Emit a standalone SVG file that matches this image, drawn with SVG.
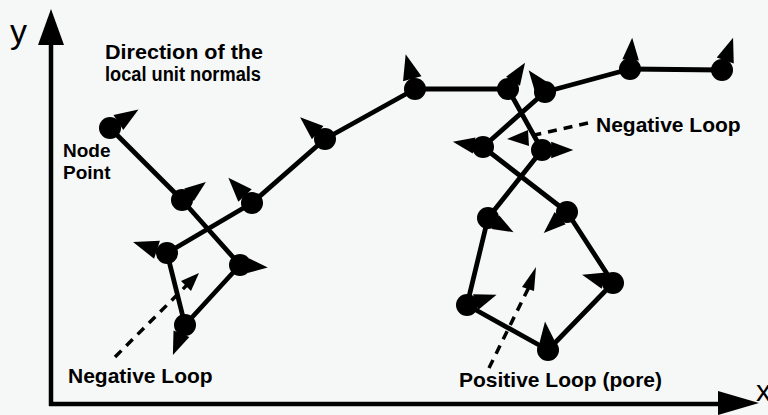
<svg xmlns="http://www.w3.org/2000/svg" xmlns:xlink="http://www.w3.org/1999/xlink" width="768" height="415" viewBox="0 0 768 415">
  <style>
    .lbl { font-family: "Liberation Sans", Arial, Helvetica, sans-serif; font-weight: bold; fill: #000; }
    .axl { font-family: "Liberation Sans", Arial, Helvetica, sans-serif; font-weight: normal; fill: #000; }
    .edge { fill: none; stroke: #000; stroke-width: 4.8; stroke-linejoin: round; stroke-linecap: round; }
    .axis { stroke: #000; stroke-width: 4.5; }
    .dash { fill: none; stroke: #000; stroke-width: 3.5; stroke-dasharray: 9 7; }
    .node { fill: #000; }
  </style>
  <defs>
    <g id="nrm">
      <line x1="0" y1="0" x2="13" y2="0" stroke="#000" stroke-width="3.5"/>
      <polygon points="10,-9 34,0 10,9" fill="#000"/>
    </g>
  </defs>
  <rect x="0" y="0" width="768" height="415" fill="#f6f8f8"/>

  <!-- axes -->
  <g id="axes">
    <line class="axis" x1="51" y1="40" x2="51" y2="406"/>
    <polygon points="51,9 38,45 64,45" fill="#000"/>
    <line class="axis" x1="49" y1="404" x2="722" y2="404"/>
    <polygon points="759,403 718,391 718,415" fill="#000"/>
    <text class="axl" x="10" y="43" font-size="34">y</text>
    <text class="axl" x="756" y="401" font-size="30">x</text>
  </g>

  <!-- connectors -->
  <g id="connectors">
    <polyline class="edge" points="110,128 182,200 240,265 185,325 167,253 252,203 325,139 415,89 508,89 542,150 488,218 467,305 548,350 613,283 567,212 483,147 545,92 630,69 722,70"/>
    <line class="dash" x1="115" y1="357" x2="187" y2="285"/>
    <polygon points="199,273 181,281 191,291" fill="#000"/>
    <line class="dash" x1="588" y1="123" x2="526" y2="137"/>
    <polygon points="507,139 528,130 529,146" fill="#000"/>
    <line class="dash" x1="489" y1="368" x2="529" y2="287"/>
    <polygon points="536,267 522,287 534,291" fill="#000"/>
  </g>

  <!-- nodes -->
  <g id="n1"><circle class="node" cx="110" cy="128" r="11"/><use xlink:href="#nrm" transform="translate(110,128) rotate(-33)"/></g>
  <g id="n2"><circle class="node" cx="182" cy="200" r="11"/><use xlink:href="#nrm" transform="translate(182,200) rotate(-37) scale(0.88)"/></g>
  <g id="nb"><circle class="node" cx="240" cy="265" r="11"/><use xlink:href="#nrm" transform="translate(240,265) rotate(5) scale(0.82)"/></g>
  <g id="nc"><circle class="node" cx="185" cy="325" r="11"/><use xlink:href="#nrm" transform="translate(185,325) rotate(112) scale(0.95)"/></g>
  <g id="na"><circle class="node" cx="167" cy="253" r="11"/><use xlink:href="#nrm" transform="translate(167,253) rotate(-162) scale(1.05)"/></g>
  <g id="n3"><circle class="node" cx="252" cy="203" r="11"/><use xlink:href="#nrm" transform="translate(252,203) rotate(-133) scale(1.02)"/></g>
  <g id="n4"><circle class="node" cx="325" cy="139" r="11"/><use xlink:href="#nrm" transform="translate(325,139) rotate(-139) scale(0.97)"/></g>
  <g id="n5"><circle class="node" cx="415" cy="89" r="11"/><use xlink:href="#nrm" transform="translate(415,89) rotate(-105) scale(1.06)"/></g>
  <g id="n6"><circle class="node" cx="508" cy="89" r="11"/><use xlink:href="#nrm" transform="translate(508,89) rotate(-57) scale(0.92)"/></g>
  <g id="ne"><circle class="node" cx="542" cy="150" r="11"/><use xlink:href="#nrm" transform="translate(542,150) rotate(0) scale(0.92)"/></g>
  <g id="nf"><circle class="node" cx="488" cy="218" r="11"/><use xlink:href="#nrm" transform="translate(488,218) rotate(29) scale(0.86)"/></g>
  <g id="nj"><circle class="node" cx="467" cy="305" r="11"/><use xlink:href="#nrm" transform="translate(467,305) rotate(-19) scale(0.92)"/></g>
  <g id="ni"><circle class="node" cx="548" cy="350" r="11"/><use xlink:href="#nrm" transform="translate(548,350) rotate(-96) scale(0.84)"/></g>
  <g id="nh"><circle class="node" cx="613" cy="283" r="11"/><use xlink:href="#nrm" transform="translate(613,283) rotate(-165) scale(0.94)"/></g>
  <g id="ng"><circle class="node" cx="567" cy="212" r="11"/><use xlink:href="#nrm" transform="translate(567,212) rotate(138) scale(0.92)"/></g>
  <g id="nd"><circle class="node" cx="483" cy="147" r="11"/><use xlink:href="#nrm" transform="translate(483,147) rotate(-170) scale(0.9)"/></g>
  <g id="n7"><circle class="node" cx="545" cy="92" r="11"/><use xlink:href="#nrm" transform="translate(545,92) rotate(-127) scale(0.8)"/></g>
  <g id="n8"><circle class="node" cx="630" cy="69" r="11"/><use xlink:href="#nrm" transform="translate(630,69) rotate(-86) scale(0.92)"/></g>
  <g id="n9"><circle class="node" cx="722" cy="70" r="11"/><use xlink:href="#nrm" transform="translate(722,70) rotate(-71)"/></g>

  <!-- labels -->
  <g id="labels">
    <text class="lbl" x="105" y="59" font-size="20" textLength="158" lengthAdjust="spacingAndGlyphs">Direction of the</text>
    <text class="lbl" x="105" y="81" font-size="20" textLength="156" lengthAdjust="spacingAndGlyphs">local unit normals</text>
    <text class="lbl" x="63" y="157" font-size="19">Node</text>
    <text class="lbl" x="63" y="179" font-size="19">Point</text>
    <text class="lbl" x="68" y="383" font-size="21">Negative Loop</text>
    <text class="lbl" x="596" y="132" font-size="21">Negative Loop</text>
    <text class="lbl" x="459" y="387" font-size="21">Positive Loop (pore)</text>
  </g>
</svg>
